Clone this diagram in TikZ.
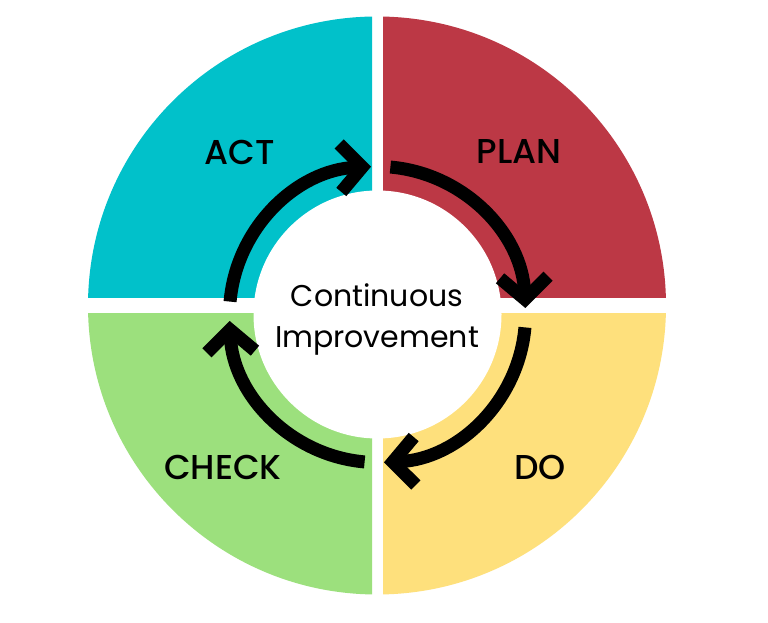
\documentclass[tikz,border=0pt]{standalone}
\usepackage{fontspec}
\setmainfont{Poppins}
\newfontfamily\labfont{Poppins Medium}
\usetikzlibrary{arrows.meta}
\definecolor{actcol}{HTML}{01C1CA}
\definecolor{plancol}{HTML}{BC3845}
\definecolor{docol}{HTML}{FEE07C}
\definecolor{checkcol}{HTML}{9CE07D}
\tikzset{
  cyclearrow/.style={line width=13pt, black,
    -{Straight Barb[length=22pt,width=48pt,sharp]}},
  phase/.style={font=\labfont\fontsize{34.5}{38}\selectfont, inner sep=0pt},
  centertext/.style={font=\fontsize{30}{33}\selectfont, inner sep=0pt, anchor=base}
}
\begin{document}
\begin{tikzpicture}[x=1pt,y=1pt]
\useasboundingbox (0,0) rectangle (768,623);
\fill[white] (0,0) rectangle (768,623);
\coordinate (O) at (377,317.5);
\coordinate (C) at (377.5,308.5);
% quadrants
\begin{scope}
  \clip (0,325) rectangle (372,623);
  \fill[actcol] (O) circle[radius=289];
\end{scope}
\begin{scope}
  \clip (383,325) rectangle (768,623);
  \fill[plancol] (O) circle[radius=289];
\end{scope}
\begin{scope}
  \clip (383,0) rectangle (768,309);
  \fill[docol] (O) circle[radius=289];
\end{scope}
\begin{scope}
  \clip (0,0) rectangle (372,309);
  \fill[checkcol] (O) circle[radius=289];
\end{scope}
\fill[white] (C) circle[radius=124];
% arrows
\draw[cyclearrow] (C) ++(175:148) arc[start angle=175, end angle=92.5, radius=148];
\draw[cyclearrow] (C) ++(85:148) arc[start angle=85, end angle=2.5, radius=148];
\draw[cyclearrow] (C) ++(-5:148) arc[start angle=-5, end angle=-87.5, radius=148];
\draw[cyclearrow] (C) ++(-95:148) arc[start angle=-95, end angle=-177.5, radius=148];
% labels
\node[phase] (act) at (240,471) {ACT};
\node[phase] (plan) at (519,471) {PLAN};
\node[phase] (check) at (223,156) {CHECK};
\node[phase] (do) at (540,156) {DO};
\node[centertext] (cont) at (377,316) {Continuous};
\node[centertext] (impr) at (377,275) {Improvement};
\end{tikzpicture}
\end{document}
